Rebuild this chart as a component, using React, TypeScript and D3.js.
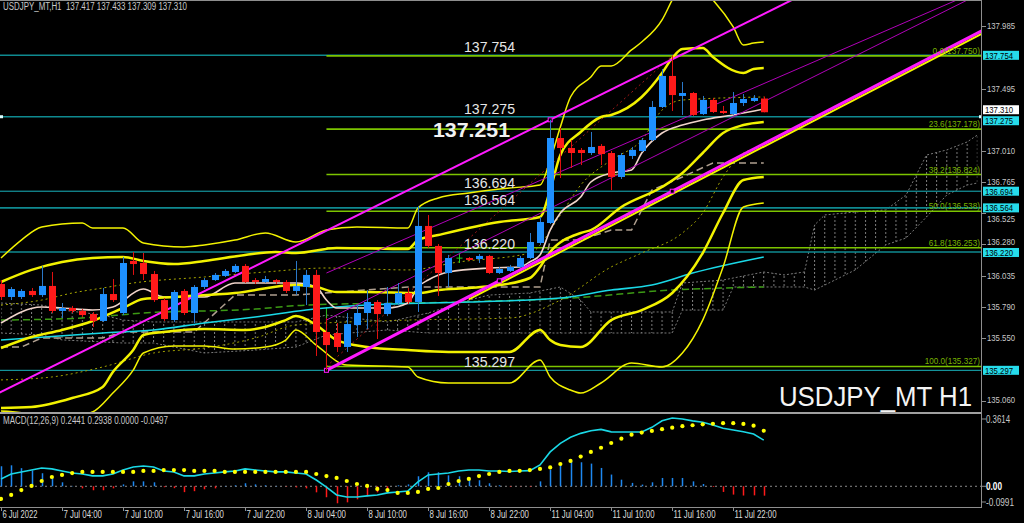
import React, { useEffect, useRef } from 'react';
import * as d3 from 'd3';

type Pt = [number, number];

const W = 1024;
const H = 523;
const PLOT_R = 982; // right edge of the plotting area, price axis after it
const BAR = 10.17; // px per H1 bar

// ---- USDJPY_MT H1 candles, 6 Jul 22:00 .. 11 Jul 23:00 ----
const opens = [
  135.970, 135.869, 135.869, 135.916, 135.884, 135.955, 135.760, 135.783, 135.760, 135.736,
  135.682, 135.892, 135.744, 136.150, 136.134, 136.048, 135.845, 135.689, 135.916, 135.744,
  135.947, 136.001, 136.033, 136.064, 136.111, 136.001, 135.986, 136.001, 135.986, 135.916,
  135.947, 136.041, 135.596, 135.588, 135.479, 135.650, 135.744, 135.830, 135.736, 135.822,
  135.900, 135.830, 136.423, 136.267, 136.056, 136.172, 136.173, 136.165, 136.189, 136.056,
  136.072, 136.103, 136.173, 136.290, 136.446, 137.109, 137.031, 137.016, 136.992, 137.047,
  136.992, 136.805, 136.969, 137.008, 137.093, 137.351, 137.593, 137.437, 137.460, 137.296,
  137.406, 137.320, 137.296, 137.382, 137.398, 137.417,
];
const highs = [
  136.001, 135.947, 135.931, 135.939, 136.111, 136.064, 135.822, 135.799, 135.775, 135.752,
  135.939, 136.009, 136.181, 136.220, 136.212, 136.072, 135.861, 135.923, 135.931, 135.962,
  136.017, 136.056, 136.087, 136.126, 136.126, 136.017, 136.033, 136.009, 136.001, 136.150,
  136.080, 136.080, 135.705, 135.666, 135.744, 135.806, 135.923, 135.845, 135.947, 135.978,
  135.939, 136.579, 136.508, 136.282, 136.197, 136.204, 136.181, 136.204, 136.197, 136.103,
  136.119, 136.189, 136.368, 136.493, 137.251, 137.187, 137.093, 137.031, 137.156, 137.062,
  137.008, 136.992, 137.039, 137.109, 137.398, 137.647, 137.754, 137.546, 137.468, 137.437,
  137.421, 137.359, 137.468, 137.452, 137.444, 137.433,
];
const lows = [
  135.845, 135.845, 135.853, 135.869, 135.869, 135.744, 135.705, 135.744, 135.713, 135.635,
  135.674, 135.830, 135.728, 136.041, 136.001, 135.830, 135.682, 135.674, 135.728, 135.666,
  135.931, 135.994, 136.025, 136.056, 135.978, 135.970, 135.978, 135.970, 135.900, 135.884,
  135.806, 135.409, 135.297, 135.440, 135.440, 135.557, 135.619, 135.541, 135.720, 135.806,
  135.814, 135.752, 136.251, 135.877, 135.947, 136.134, 136.150, 136.134, 136.048, 136.048,
  136.064, 136.095, 136.165, 136.274, 136.438, 136.797, 136.875, 136.898, 136.976, 136.898,
  136.703, 136.789, 136.945, 137.000, 137.085, 137.343, 137.320, 137.289, 137.281, 137.289,
  137.304, 137.296, 137.289, 137.359, 137.390, 137.309,
];
const closes = [
  135.869, 135.931, 135.916, 135.884, 135.955, 135.760, 135.783, 135.760, 135.728, 135.682,
  135.892, 135.845, 136.134, 136.126, 136.048, 135.845, 135.697, 135.908, 135.744, 135.947,
  136.001, 136.041, 136.072, 136.111, 135.986, 135.986, 136.009, 135.986, 135.916, 135.955,
  136.041, 135.596, 135.494, 135.479, 135.658, 135.744, 135.830, 135.736, 135.822, 135.900,
  135.830, 136.423, 136.267, 136.056, 136.173, 136.172, 136.158, 136.189, 136.056, 136.087,
  136.103, 136.173, 136.298, 136.454, 137.109, 137.031, 136.992, 136.992, 137.039, 136.984,
  136.805, 136.976, 137.016, 137.093, 137.351, 137.593, 137.444, 137.460, 137.289, 137.406,
  137.312, 137.304, 137.382, 137.413, 137.421, 137.310,
];

const timeLabels = [
  '6 Jul 2022', '7 Jul 04:00', '7 Jul 10:00', '7 Jul 16:00', '7 Jul 22:00', '8 Jul 04:00',
  '8 Jul 10:00', '8 Jul 16:00', '8 Jul 22:00', '11 Jul 04:00', '11 Jul 10:00', '11 Jul 16:00',
  '11 Jul 22:00',
];
const timeLabelBars = [0, 6, 12, 18, 24, 30, 36, 42, 48, 54, 60, 66, 72];

const priceTicks = [137.985, 137.495, 137.010, 136.765, 136.525, 136.280, 136.035, 135.790, 135.550, 135.060];

// horizontal levels drawn by hand
const levelPrices = [137.754, 137.275, 136.694, 136.564, 136.220, 135.297];
const levelLabels = ['137.754', '137.275', '136.694', '136.564', '136.220', '135.297'];

// fibo retracement 135.327 -> 137.750
const fibNames = ['0.0', '23.6', '38.2', '50.0', '61.8', '100.0'];
const fibPrices = [137.750, 137.178, 136.824, 136.538, 136.253, 135.327];

// bollinger bands, [bar, price]
const bbUpper3: Pt[] = [[0, 136.173], [2, 136.313], [4, 136.415], [8, 136.446], [9, 136.407], [12, 136.407], [14, 136.290], [18, 136.259], [20, 136.275], [23, 136.313], [26, 136.368], [29, 136.298], [32, 136.391], [35, 136.415], [40, 136.407], [41, 136.563], [43, 136.641], [46, 136.680], [50, 136.719], [53, 136.742], [54, 136.938], [55, 137.195], [56, 137.429], [58, 137.585], [59, 137.671], [60, 137.671], [62, 137.796], [63, 137.858], [65, 138.030], [66, 138.186], [67, 138.326], [68, 138.330], [70, 138.186], [72, 137.975], [73, 137.834], [74, 137.850], [75, 137.858]];
const bbUpper2: Pt[] = [[0, 135.986], [3, 136.080], [6, 136.142], [9, 136.173], [12, 136.181], [14, 136.150], [17, 136.126], [20, 136.150], [24, 136.197], [27, 136.220], [29, 136.212], [33, 136.251], [40, 136.243], [41, 136.313], [43, 136.352], [49, 136.454], [53, 136.493], [54, 136.704], [55, 136.977], [57, 137.156], [59, 137.273], [60, 137.289], [63, 137.429], [65, 137.616], [66, 137.733], [67, 137.803], [69, 137.811], [70, 137.741], [73, 137.616], [74, 137.647], [75, 137.655]];
const bbMid: Pt[] = [[0, 135.471], [3, 135.557], [6, 135.612], [9, 135.682], [12, 135.783], [14, 135.853], [17, 135.869], [23, 135.900], [29, 135.962], [31, 135.947], [33, 135.908], [36, 135.908], [41, 135.900], [43, 135.923], [46, 135.939], [49, 135.962], [52, 136.017], [53, 136.103], [54, 136.220], [57, 136.368], [58, 136.391], [61, 136.571], [65, 136.727], [67, 136.836], [69, 136.992], [71, 137.148], [73, 137.210], [75, 137.234]];
const bbLower2: Pt[] = [[0, 135.003], [3, 135.011], [7, 135.081], [10, 135.167], [11, 135.284], [13, 135.455], [14, 135.573], [16, 135.596], [20, 135.619], [24, 135.612], [26, 135.635], [28, 135.689], [29, 135.720], [31, 135.650], [33, 135.533], [36, 135.479], [40, 135.455], [44, 135.440], [50, 135.440], [53, 135.612], [54, 135.533], [55, 135.494], [57, 135.479], [60, 135.689], [63, 135.767], [66, 135.900], [69, 136.212], [71, 136.524], [73, 136.781], [75, 136.805]];
const bbLower3: Pt[] = [[0, 134.980], [2, 134.967], [5, 134.910], [9, 134.972], [11, 135.120], [13, 135.299], [14, 135.432], [17, 135.487], [20, 135.487], [23, 135.463], [26, 135.479], [28, 135.533], [29, 135.612], [31, 135.494], [34, 135.338], [40, 135.323], [41, 135.245], [44, 135.198], [50, 135.198], [53, 135.377], [54, 135.245], [56, 135.143], [57, 135.120], [59, 135.198], [62, 135.354], [65, 135.323], [67, 135.432], [69, 135.689], [71, 136.103], [73, 136.571], [75, 136.602]];

// moving averages
const maWhite: Pt[] = [[0, 135.666], [4, 135.791], [6, 135.783], [9, 135.767], [11, 135.791], [14, 135.931], [16, 135.869], [20, 135.869], [23, 135.978], [29, 135.978], [31, 135.947], [32, 135.845], [33, 135.783], [38, 135.783], [40, 135.822], [41, 135.947], [42, 136.001], [44, 136.064], [48, 136.095], [51, 136.103], [52, 136.142], [53, 136.197], [54, 136.391], [55, 136.524], [57, 136.649], [58, 136.766], [60, 136.836], [62, 136.860], [63, 136.992], [65, 137.148], [67, 137.210], [69, 137.250], [72, 137.289], [75, 137.335]];
const maCyan: Pt[] = [[0, 135.533], [10, 135.588], [15, 135.612], [20, 135.666], [25, 135.713], [30, 135.767], [36, 135.806], [46, 135.830], [55, 135.861], [60, 135.923], [64, 135.962], [68, 136.056], [75, 136.181]];
const greenDash: Pt[] = [[0, 135.689], [8, 135.705], [14, 135.744], [25, 135.775], [30, 135.806], [45, 135.830], [56, 135.861], [66, 135.923], [75, 135.947]];

// ichimoku
const kijun: Pt[] = [[0, 135.479], [2, 135.479], [4, 135.549], [10, 135.549], [12, 135.596], [19, 135.596], [23, 135.884], [29, 135.884], [40, 135.947], [53, 135.947], [54, 136.313], [57, 136.313], [60, 136.391], [62, 136.391], [64, 136.703], [67, 136.805], [70, 136.914], [75, 136.914]];
const tenkan: Pt[] = [[0, 135.806], [4, 135.845], [7, 135.900], [10, 135.939], [13, 135.978], [20, 136.025], [26, 136.064], [32, 136.095], [40, 136.080], [45, 136.142], [52, 136.212], [55, 136.508], [57, 136.742], [60, 136.937], [63, 137.093], [65, 137.327], [67, 137.405], [75, 137.429]];
const oliveLower: Pt[] = [[0, 135.222], [5, 135.245], [10, 135.323], [15, 135.432], [20, 135.471], [25, 135.549], [29, 135.650], [40, 135.689], [50, 135.705], [55, 135.845], [60, 136.103], [63, 136.212], [67, 136.368], [69, 136.524], [71, 136.805], [73, 136.992], [75, 137.039]];
const cloudTop: Pt[] = [[0, 135.822], [4, 135.806], [6, 135.767], [10, 135.728], [12, 135.689], [15, 135.674], [29, 135.674], [32, 135.728], [38, 135.674], [42, 135.744], [46, 135.845], [48, 135.884], [52, 135.900], [55, 135.947], [57, 135.845], [58, 135.752], [66, 135.752], [67, 135.978], [71, 136.001], [72, 136.017], [75, 136.064], [77, 136.041], [79, 136.064], [80, 136.431], [81, 136.509], [84, 136.532], [87, 136.548], [89, 136.665], [91, 136.976], [93, 137.016], [95, 137.078], [96, 137.132]];
const cloudBottom: Pt[] = [[0, 135.588], [4, 135.573], [6, 135.534], [12, 135.510], [15, 135.510], [20, 135.432], [25, 135.455], [29, 135.479], [32, 135.573], [38, 135.612], [42, 135.588], [66, 135.588], [67, 135.767], [71, 135.767], [72, 135.947], [79, 135.947], [80, 135.923], [81, 135.962], [84, 136.080], [87, 136.275], [89, 136.329], [91, 136.493], [93, 136.665], [95, 136.742], [96, 136.758]];

// trend channel, two anchors each
const channelUpper: Pt[] = [[0, 135.128], [54, 137.251]];
const channelLower: Pt[] = [[32, 135.297], [66, 136.694]];
const channelYellow: Pt[] = [[46, 135.850], [66, 136.672]];
const channelInner1: Pt[] = [[32, 136.056], [94, 138.186]];
const channelInner2: Pt[] = [[32, 135.689], [96.5, 138.244]];
const fibAnchor: Pt[] = [[32, 135.327], [66, 137.750]];
const anchorMarks: Pt[] = [[32, 135.297], [49, 135.995], [54, 137.251], [66, 136.694]];

// MACD(12,26,9)
const macdMain = [
  0.039, 0.065, 0.076, 0.086, 0.097, 0.092, 0.081, 0.070, 0.065, 0.055,
  0.055, 0.065, 0.086, 0.102, 0.107, 0.102, 0.081, 0.076, 0.055, 0.055,
  0.065, 0.070, 0.076, 0.081, 0.092, 0.086, 0.081, 0.076, 0.076, 0.070,
  0.065, 0.033, -0.004, -0.046, -0.057, -0.057, -0.051, -0.046, -0.035, -0.030,
  -0.025, 0.023, 0.060, 0.065, 0.070, 0.081, 0.086, 0.086, 0.081, 0.081,
  0.078, 0.081, 0.083, 0.113, 0.182, 0.227, 0.259, 0.280, 0.294, 0.301,
  0.288, 0.287, 0.287, 0.287, 0.312, 0.347, 0.3614, 0.356, 0.346, 0.339,
  0.324, 0.307, 0.298, 0.289, 0.277, 0.2441,
];
const macdSignal = [
  -0.067, -0.046, -0.020, 0.002, 0.028, 0.049, 0.060, 0.070, 0.076, 0.076,
  0.076, 0.076, 0.076, 0.076, 0.081, 0.081, 0.086, 0.086, 0.086, 0.081,
  0.081, 0.081, 0.076, 0.076, 0.076, 0.076, 0.076, 0.076, 0.076, 0.076,
  0.076, 0.065, 0.054, 0.044, 0.028, 0.012, 0.002, -0.014, -0.020, -0.035,
  -0.035, -0.030, -0.014, -0.009, 0.012, 0.028, 0.039, 0.054, 0.065, 0.076,
  0.081, 0.082, 0.086, 0.092, 0.100, 0.118, 0.134, 0.157, 0.182, 0.204,
  0.229, 0.252, 0.273, 0.284, 0.293, 0.302, 0.310, 0.318, 0.323, 0.328,
  0.331, 0.334, 0.334, 0.330, 0.321, 0.2938,
];
const macdHist = [
  0.106, 0.111, 0.096, 0.084, 0.069, 0.043, 0.021, 0.002, -0.011, -0.021,
  -0.021, -0.011, 0.010, 0.026, 0.026, 0.021, -0.005, -0.010, -0.031, -0.026,
  -0.016, -0.011, 0.002, 0.005, 0.016, 0.010, 0.005, 0.002, -0.002, -0.006,
  -0.011, -0.032, -0.058, -0.090, -0.085, -0.069, -0.053, -0.032, -0.015, 0.005,
  0.010, 0.053, 0.074, 0.074, 0.058, 0.053, 0.047, 0.032, 0.016, 0.005,
  -0.003, -0.001, -0.003, 0.026, 0.088, 0.115, 0.132, 0.127, 0.120, 0.097,
  0.062, 0.035, 0.018, 0.009, 0.021, 0.044, 0.044, 0.044, 0.026, 0.012,
  -0.004, -0.030, -0.044, -0.049, -0.048, -0.0497,
];

const FONT = '"Liberation Sans", Arial, sans-serif';

export default function App() {
  const svgRef = useRef<SVGSVGElement>(null);

  useEffect(() => {
    if (!svgRef.current) return;
    const svg = d3.select(svgRef.current);
    svg.selectAll('*').remove();

    const x = d3.scaleLinear().domain([0, 1]).range([1, 1 + BAR]);
    const y = d3.scaleLinear().domain([135.06, 137.985]).range([400.7, 25.7]);
    const my = d3.scaleLinear().domain([-0.0991, 0.3614]).range([505, 418]);

    svg.append('rect').attr('width', W).attr('height', H).attr('fill', '#000');

    const defs = svg.append('defs');
    defs.append('clipPath').attr('id', 'clipMain')
      .append('rect').attr('x', 0).attr('y', 1).attr('width', PLOT_R).attr('height', 411);
    defs.append('clipPath').attr('id', 'clipMacd')
      .append('rect').attr('x', 0).attr('y', 415).attr('width', PLOT_R).attr('height', 91);
    const pat = defs.append('pattern').attr('id', 'hatch')
      .attr('patternUnits', 'userSpaceOnUse')
      .attr('x', 0.5).attr('y', 0).attr('width', BAR).attr('height', 4);
    pat.append('rect').attr('x', 0).attr('y', 0).attr('width', 1).attr('height', 2).attr('fill', '#7d7d7d');

    const main = svg.append('g').attr('clip-path', 'url(#clipMain)');

    const smooth = d3.line<Pt>().x(d => x(d[0])).y(d => y(d[1])).curve(d3.curveMonotoneX);
    const straight = d3.line<Pt>().x(d => x(d[0])).y(d => y(d[1]));

    const series = (data: Pt[], color: string, width: number, dash?: string, curved = true) =>
      main.append('path')
        .attr('d', (curved ? smooth : straight)(data))
        .attr('fill', 'none')
        .attr('stroke', color)
        .attr('stroke-width', width)
        .attr('stroke-dasharray', dash ?? null);

    // extend a 2-anchor trendline between two bars
    const trend = (a: Pt[], from: number, to: number): Pt[] => {
      const s = d3.scaleLinear().domain([a[0][0], a[1][0]]).range([a[0][1], a[1][1]]);
      return [[from, s(from)], [to, s(to)]];
    };

    // 1. ichimoku cloud
    const cloudPoly = cloudTop.concat(cloudBottom.slice().reverse());
    main.append('path').attr('d', straight(cloudPoly) + 'Z').attr('fill', 'url(#hatch)');
    series(cloudTop, '#7a7a7a', 1, '2,2', false);
    series(cloudBottom, '#7a7a7a', 1, '2,2', false);

    // 2. horizontal levels
    levelPrices.forEach((p, i) => {
      const bright = i === 2 || i === 5;
      main.append('line')
        .attr('x1', 0).attr('x2', PLOT_R)
        .attr('y1', y(p)).attr('y2', y(p))
        .attr('stroke', bright ? '#19b3bd' : '#0f8a90')
        .attr('stroke-width', bright ? 1 : 1.6);
    });

    // 3. fibo
    const fibX = x(32);
    fibPrices.forEach(p => {
      main.append('line')
        .attr('x1', fibX).attr('x2', PLOT_R)
        .attr('y1', y(p)).attr('y2', y(p))
        .attr('stroke', '#7cc400').attr('stroke-width', 1.6);
    });
    main.append('line')
      .attr('x1', fibX).attr('x2', fibX)
      .attr('y1', y(135.79)).attr('y2', y(135.327))
      .attr('stroke', '#30c020').attr('stroke-width', 1);
    series(fibAnchor, '#a01818', 1, '2,3', false);

    // 4. indicators
    series(greenDash, '#3c9a14', 1.5, '7,4');
    series(kijun, '#b0a090', 1.5, '7,4', false);
    series(oliveLower, '#a0a000', 1, '2,3');
    series(tenkan, '#a8a800', 1, '2,3');
    series(maCyan, '#1ad8e6', 1.6);
    series(maWhite, '#f0d4ca', 1.6);
    series(bbUpper3, '#f2f200', 1.5);
    series(bbLower3, '#f2f200', 1.5);
    series(bbUpper2, '#f2f200', 2.5);
    series(bbLower2, '#f2f200', 2.5);
    series(bbMid, '#f2f200', 2.5);

    // 5. trend channel
    series(trend(channelInner1, 32, 98), '#b000b8', 1, undefined, false);
    series(trend(channelInner2, 32, 98), '#b000b8', 1, undefined, false);
    series(trend(channelUpper, -1, 98), '#ff1aff', 2, undefined, false);
    series(trend(channelYellow, 46, 98), '#f2f200', 2, undefined, false);
    series(trend(channelLower, 32, 98), '#ff1aff', 3, undefined, false);
    anchorMarks.forEach(d => {
      main.append('rect')
        .attr('x', x(d[0]) - 2).attr('y', y(d[1]) - 2)
        .attr('width', 4).attr('height', 4)
        .attr('fill', '#000').attr('stroke', '#ff1aff').attr('stroke-width', 1);
    });

    // 6. candles
    opens.forEach((o, i) => {
      const c = closes[i];
      const cx = Math.round(x(i)) + 0.5;
      const color = o === c ? '#22cc22' : c > o ? '#1e90ff' : '#ff1a1a';
      const wick = o === c ? '#22cc22' : c > o ? '#2a78c8' : '#e01010';
      main.append('line')
        .attr('x1', cx).attr('x2', cx)
        .attr('y1', y(highs[i])).attr('y2', y(lows[i]))
        .attr('stroke', wick).attr('stroke-width', 1);
      if (o === c) {
        main.append('line')
          .attr('x1', cx - 3).attr('x2', cx + 3)
          .attr('y1', y(o)).attr('y2', y(o))
          .attr('stroke', color).attr('stroke-width', 1);
      } else {
        const top = y(Math.max(o, c));
        const h = Math.max(1, y(Math.min(o, c)) - top);
        main.append('rect')
          .attr('x', cx - 3.5).attr('y', top)
          .attr('width', 7).attr('height', h)
          .attr('fill', color);
      }
    });

    // 7. texts on the chart
    levelPrices.forEach((p, i) => {
      main.append('text')
        .attr('x', 464).attr('y', y(p) - 3)
        .attr('fill', '#e6e6e6')
        .attr('font-family', FONT).attr('font-size', 14)
        .attr('textLength', 51).attr('lengthAdjust', 'spacingAndGlyphs')
        .text(levelLabels[i]);
    });
    main.append('text')
      .attr('x', 433).attr('y', 137)
      .attr('fill', '#f2f2f2')
      .attr('font-family', FONT).attr('font-size', 20).attr('font-weight', 'bold')
      .attr('textLength', 77).attr('lengthAdjust', 'spacingAndGlyphs')
      .text('137.251');
    fibPrices.forEach((p, i) => {
      const t = `${fibNames[i]}(${p.toFixed(3)})`;
      main.append('text')
        .attr('x', 980).attr('y', y(p) - 2)
        .attr('text-anchor', 'end')
        .attr('fill', '#78b400')
        .attr('font-family', FONT).attr('font-size', 9.5)
        .attr('textLength', t.length * 3.95).attr('lengthAdjust', 'spacingAndGlyphs')
        .text(t);
    });
    main.append('text')
      .attr('x', 972).attr('y', 406)
      .attr('text-anchor', 'end')
      .attr('fill', '#f4f4f4')
      .attr('font-family', FONT).attr('font-size', 28)
      .attr('textLength', 193).attr('lengthAdjust', 'spacingAndGlyphs')
      .text('USDJPY_MT H1');
    svg.append('rect').attr('x', 0).attr('y', y(137.275) - 1.5).attr('width', 3).attr('height', 3).attr('fill', '#dff');
    svg.append('rect').attr('x', 979).attr('y', y(137.275) - 1.5).attr('width', 3).attr('height', 3).attr('fill', '#dff');

    svg.append('text')
      .attr('x', 3).attr('y', 10)
      .attr('fill', '#c8c8c8')
      .attr('font-family', FONT).attr('font-size', 10)
      .attr('textLength', 184).attr('lengthAdjust', 'spacingAndGlyphs')
      .style('white-space', 'pre')
      .text('USDJPY_MT,H1  137.417 137.433 137.309 137.310');

    // 8. MACD pane
    const macd = svg.append('g').attr('clip-path', 'url(#clipMacd)');
    macd.append('line')
      .attr('x1', 0).attr('x2', PLOT_R)
      .attr('y1', my(0)).attr('y2', my(0))
      .attr('stroke', '#8a8a8a').attr('stroke-width', 1).attr('stroke-dasharray', '2,3');
    macdHist.forEach((v, i) => {
      macd.append('line')
        .attr('x1', Math.round(x(i)) + 0.5).attr('x2', Math.round(x(i)) + 0.5)
        .attr('y1', my(0)).attr('y2', my(v))
        .attr('stroke', v >= 0 ? '#1e88f0' : '#ff1a1a').attr('stroke-width', 1.5);
    });
    macd.append('path')
      .attr('d', d3.line<number>().x((_, i) => x(i)).y(v => my(v))(macdMain))
      .attr('fill', 'none').attr('stroke', '#1ad8e6').attr('stroke-width', 1.6);
    macdSignal.forEach((v, i) => {
      macd.append('circle').attr('cx', x(i)).attr('cy', my(v)).attr('r', 2.1).attr('fill', '#ffff00');
    });
    svg.append('text')
      .attr('x', 3).attr('y', 424)
      .attr('fill', '#c8c8c8')
      .attr('font-family', FONT).attr('font-size', 10)
      .attr('textLength', 165).attr('lengthAdjust', 'spacingAndGlyphs')
      .text('MACD(12,26,9) 0.2441 0.2938 0.0000 -0.0497');

    // 9. frames
    const frame = '#8e8e8e';
    svg.append('line').attr('x1', 0).attr('x2', PLOT_R).attr('y1', 0.5).attr('y2', 0.5).attr('stroke', frame);
    svg.append('line').attr('x1', 0).attr('x2', PLOT_R).attr('y1', 413).attr('y2', 413).attr('stroke', '#a0a0a0').attr('stroke-width', 2);
    svg.append('line').attr('x1', 0).attr('x2', PLOT_R).attr('y1', 507.5).attr('y2', 507.5).attr('stroke', frame);
    svg.append('line').attr('x1', PLOT_R - 0.5).attr('x2', PLOT_R - 0.5).attr('y1', 0).attr('y2', 508).attr('stroke', frame);

    // price axis; a few labels nudged so they clear the level markers
    const nudge: Record<string, number> = { '136.525': 6, '136.280': -2.5, '135.060': -1 };
    priceTicks.forEach(p => {
      const ty = y(p) + (nudge[p.toFixed(3)] ?? 0);
      svg.append('line').attr('x1', PLOT_R).attr('x2', PLOT_R + 4).attr('y1', Math.round(y(p)) + 0.5).attr('y2', Math.round(y(p)) + 0.5).attr('stroke', frame);
      svg.append('text')
        .attr('x', 987).attr('y', ty + 3.2)
        .attr('fill', '#c8c8c8')
        .attr('font-family', FONT).attr('font-size', 9.5)
        .attr('textLength', 28).attr('lengthAdjust', 'spacingAndGlyphs')
        .text(p.toFixed(3));
    });
    const box = (p: number, label: string, fill: string, dy = 0) => {
      const cy = y(p) + dy;
      svg.append('rect').attr('x', 983).attr('y', cy - 4.5).attr('width', 36).attr('height', 9).attr('fill', fill);
      svg.append('text')
        .attr('x', 985).attr('y', cy + 3.4)
        .attr('fill', '#000')
        .attr('font-family', FONT).attr('font-size', 9)
        .attr('textLength', 28).attr('lengthAdjust', 'spacingAndGlyphs')
        .text(label);
    };
    box(137.310, '137.310', '#ffffff', -2.5);
    levelPrices.forEach((p, i) => box(p, levelLabels[i], '#26dceb', i === 1 ? 4 : i === 4 ? 0.5 : 0));

    // macd axis
    const macdAxis: [number, string, string, number][] = [
      [0.3614, '0.3614', '#c8c8c8', 1],
      [0, '0.00', '#ffffff', 0],
      [-0.0991, '-0.0991', '#c8c8c8', -3],
    ];
    macdAxis.forEach(([v, t, c, dy]) => {
      const yy = my(v) + dy;
      svg.append('line').attr('x1', PLOT_R).attr('x2', PLOT_R + 4).attr('y1', yy).attr('y2', yy).attr('stroke', frame);
      svg.append('text')
        .attr('x', 986).attr('y', yy + 3.5)
        .attr('fill', c)
        .attr('font-family', FONT).attr('font-size', 10)
        .attr('font-weight', v === 0 ? 'bold' : 'normal')
        .attr('textLength', t.length * 4).attr('lengthAdjust', 'spacingAndGlyphs')
        .text(t);
    });

    // time axis
    timeLabelBars.forEach((b, i) => {
      const tx = Math.round(x(b)) + 0.5;
      svg.append('line').attr('x1', tx).attr('x2', tx).attr('y1', 508).attr('y2', 511).attr('stroke', frame);
      const t = timeLabels[i];
      svg.append('text')
        .attr('x', tx + 1).attr('y', 518)
        .attr('fill', '#dcdcdc')
        .attr('font-family', FONT).attr('font-size', 10)
        .attr('textLength', t.length * 3.5).attr('lengthAdjust', 'spacingAndGlyphs')
        .text(t);
    });
  }, []);

  return (
    <svg
      ref={svgRef}
      width={W}
      height={H}
      style={{ position: 'absolute', left: 0, top: 0, display: 'block', background: '#000' }}
    />
  );
}
